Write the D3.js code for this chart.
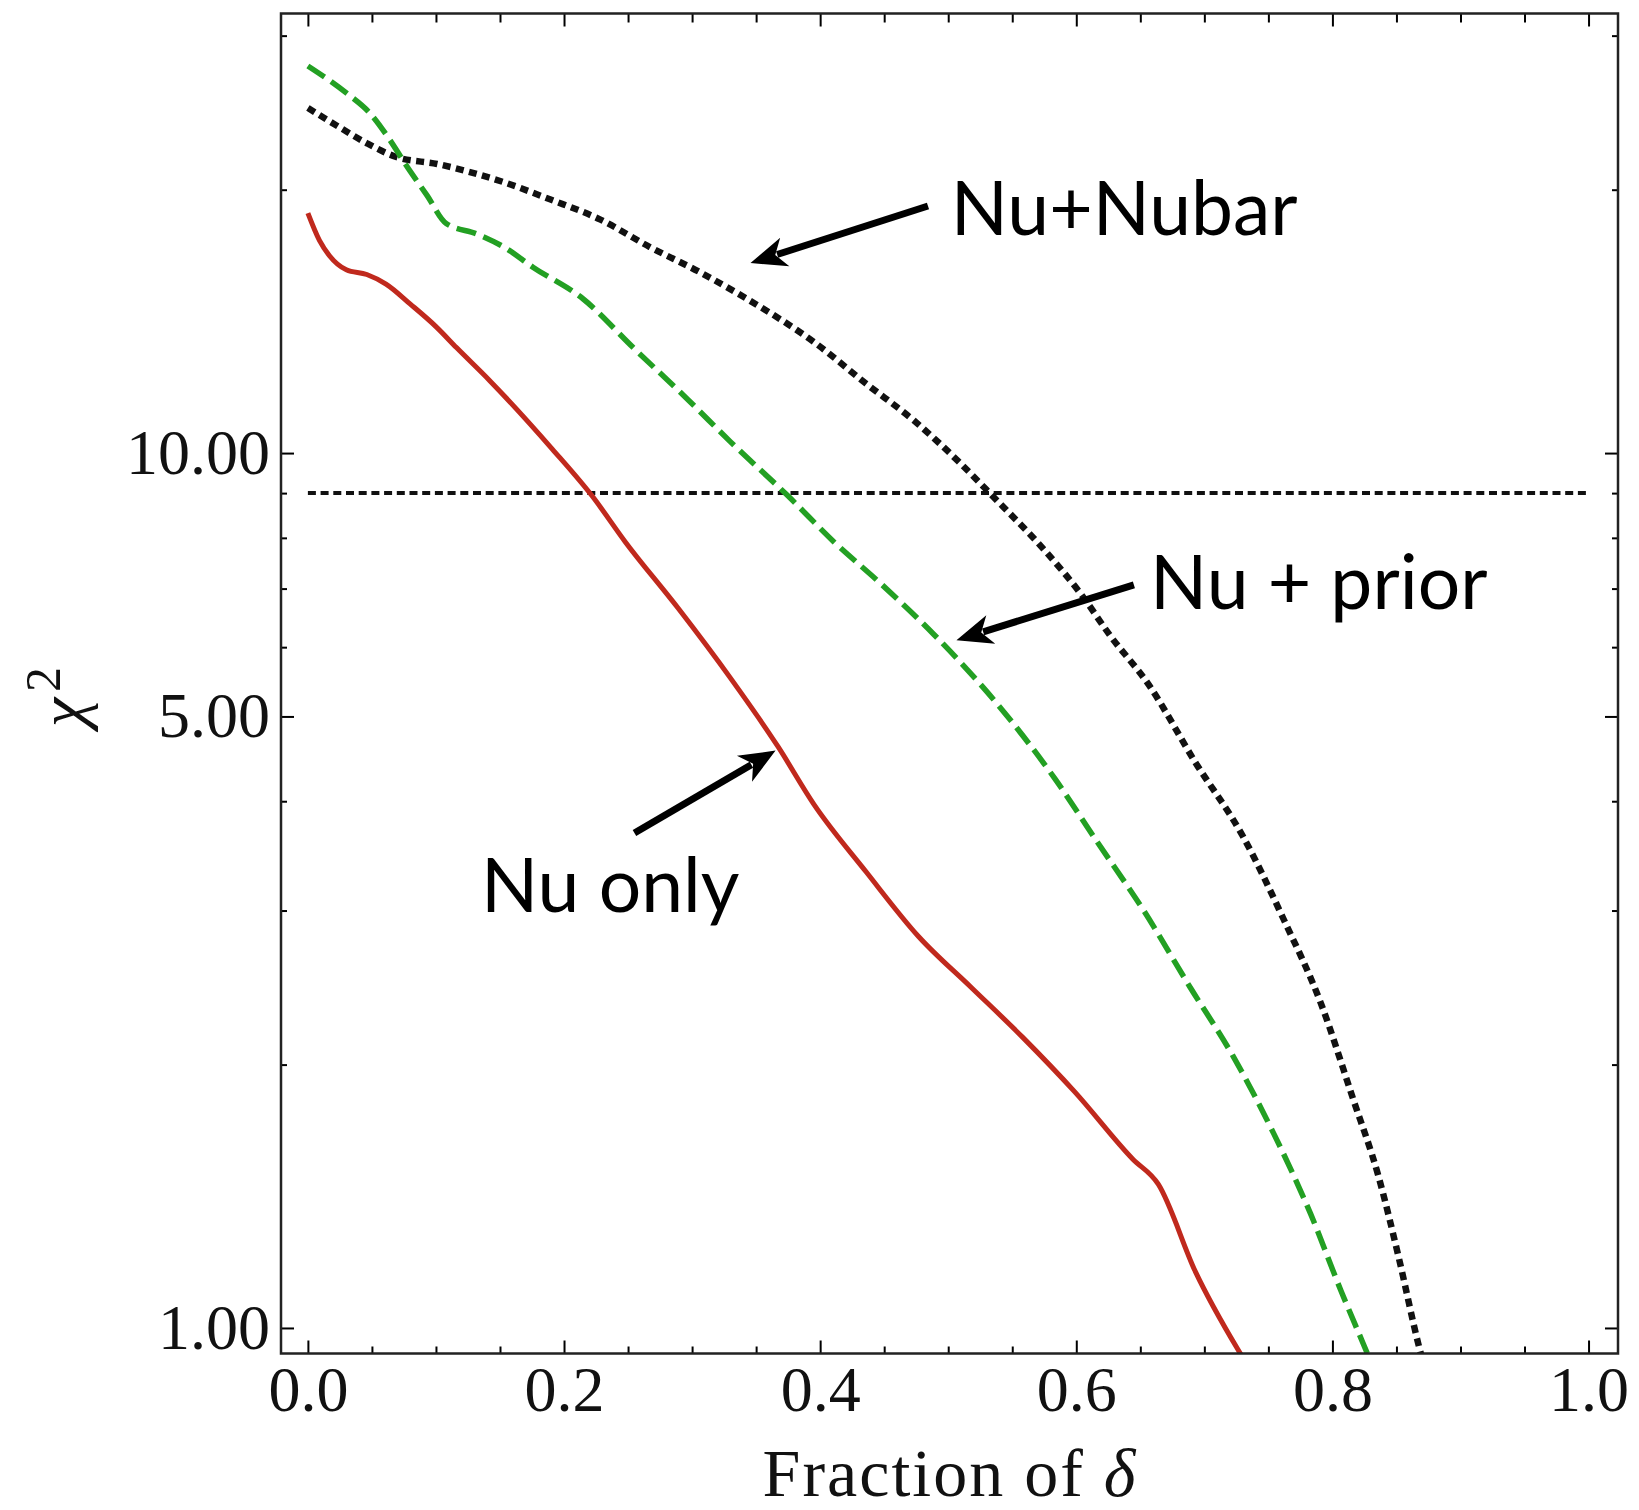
<!DOCTYPE html>
<html>
<head>
<meta charset="utf-8">
<script src="https://cdnjs.cloudflare.com/ajax/libs/d3/7.8.5/d3.min.js"></script>
<style>
    body { margin: 0; background: #ffffff; }
    svg { display: block; }
    .tick-label { font-family: "Liberation Serif", "Times New Roman", serif; }
    .note { font-family: Lato, "Open Sans", sans-serif; }
</style>
</head>
<body>
<svg id="chart" width="1639" height="1510"></svg>
<script>
"use strict";

// Nu only (red, solid)
let nuOnlyX = [0, 0.009, 0.017, 0.030, 0.046, 0.061, 0.080, 0.100, 0.116, 0.142, 0.191, 0.222,
    0.248, 0.289, 0.330, 0.367, 0.395, 0.436, 0.477, 0.518, 0.558, 0.599, 0.644, 0.664, 0.693, 0.726, 0.735];
let nuOnlyChi2 = [18.8, 17.5, 16.8, 16.2, 16.0, 15.6, 14.8, 13.95, 13.2, 12.1, 10.1, 8.93,
    7.91, 6.65, 5.53, 4.62, 3.97, 3.32, 2.80, 2.45, 2.15, 1.86, 1.56, 1.46, 1.16, 0.946, 0.90];

// Nu + prior (green, dashed)
let nuPriorX = [0, 0.030, 0.048, 0.064, 0.077, 0.093, 0.108, 0.132, 0.153, 0.176, 0.215, 0.254,
    0.297, 0.330, 0.375, 0.411, 0.447, 0.489, 0.542, 0.583, 0.616, 0.652, 0.689, 0.722, 0.754, 0.783,
    0.807, 0.824, 0.832];
let nuPriorChi2 = [27.7, 25.8, 24.5, 22.8, 21.3, 19.7, 18.3, 17.8, 17.2, 16.3, 15.0, 13.2,
    11.5, 10.3, 8.93, 7.91, 7.10, 6.20, 5.09, 4.25, 3.60, 3.01, 2.45, 2.05, 1.67, 1.35,
    1.10, 0.96, 0.90];

// Nu+Nubar (black, dotted)
let nuNubarX = [0, 0.022, 0.046, 0.069, 0.101, 0.124, 0.153, 0.189, 0.228, 0.267, 0.306, 0.343,
    0.395, 0.436, 0.473, 0.509, 0.535, 0.575, 0.603, 0.627, 0.656, 0.693, 0.730, 0.762, 0.791,
    0.816, 0.836, 0.852, 0.867, 0.872];
let nuNubarChi2 = [24.8, 23.7, 22.6, 21.8, 21.4, 21.0, 20.4, 19.5, 18.5, 17.2, 16.1, 15.0,
    13.4, 12.0, 10.9, 9.75, 8.92, 7.75, 6.92, 6.17, 5.45, 4.43, 3.65, 2.93, 2.35,
    1.83, 1.49, 1.20, 0.96, 0.90];

// horizontal reference level
let thresholdChi2 = 9;
let thresholdX = [0, 1];

// ticks
let xMajorTicks = [0, 0.2, 0.4, 0.6, 0.8, 1.0];
let xMinorTicks = [0.05, 0.1, 0.15, 0.25, 0.3, 0.35, 0.45, 0.5, 0.55, 0.65, 0.7, 0.75, 0.85, 0.9, 0.95];
let yMajorTicks = [1, 5, 10];
let yMinorTicks = [2, 3, 4, 6, 7, 8, 9, 20, 30];

// annotations, in data units
let noteLabels = ["Nu+Nubar", "Nu + prior", "Nu only"];
let noteTextPos = [[0.502, 17.76], [0.6576, 6.63], [0.1352, 2.99]];
let noteArrowTail = [[0.4842, 19.16], [0.6450, 7.07], [0.2550, 3.68]];
let noteArrowTip = [[0.3456, 16.49], [0.5064, 6.11], [0.3652, 4.57]];

let svg = d3.select("#chart");

let frame = { left: 281, right: 1618, top: 13.5, bottom: 1353.5 };

let x = d3.scaleLinear()
    .domain([-0.021, 1.023])
    .range([frame.left, frame.right]);

let y = d3.scaleLog()
    .domain([0.935, 31.8])
    .range([frame.bottom, frame.top]);

svg.append("defs").append("clipPath")
    .attr("id", "plotClip")
    .append("rect")
    .attr("x", frame.left)
    .attr("y", frame.top)
    .attr("width", frame.right - frame.left)
    .attr("height", frame.bottom - frame.top);

function zipSeries(xs, ys) {
    return xs.map((d, i) => [d, ys[i]]);
}

let line = d3.line()
    .x(d => x(d[0]))
    .y(d => y(d[1]))
    .curve(d3.curveMonotoneX);

let plot = svg.append("g").attr("clip-path", "url(#plotClip)");

// threshold line
plot.append("path")
    .datum(thresholdX.map(d => [d, thresholdChi2]))
    .attr("d", d3.line().x(d => x(d[0])).y(d => y(d[1])))
    .style("fill", "none")
    .style("stroke", "#111111")
    .style("stroke-width", 4)
    .style("stroke-dasharray", "8,4.7");

let series = [
    { data: zipSeries(nuNubarX, nuNubarChi2), color: "#111111", width: 6.5, dash: "8,5.5" },
    { data: zipSeries(nuPriorX, nuPriorChi2), color: "#23a023", width: 5.5, dash: "20,8" },
    { data: zipSeries(nuOnlyX, nuOnlyChi2), color: "#c0291d", width: 5, dash: null }
];

plot.selectAll(".series")
    .data(series)
    .enter().append("path")
    .attr("class", "series")
    .attr("d", d => line(d.data))
    .style("fill", "none")
    .style("stroke", d => d.color)
    .style("stroke-width", d => d.width)
    .style("stroke-dasharray", d => d.dash)
    .style("stroke-linejoin", "round");

// axes with inward ticks on all four sides
function drawAxis(axisFn, scale, ticks, size, labelled, translate, fmt) {
    let axis = axisFn(scale)
        .tickValues(ticks)
        .tickSizeInner(-size)
        .tickSizeOuter(0)
        .tickPadding(labelled ? 12 : 0)
        .tickFormat(labelled ? fmt : "");

    let g = svg.append("g")
        .attr("transform", translate)
        .call(axis);

    g.select(".domain").remove();
    g.selectAll(".tick line")
        .style("stroke", "#000000")
        .style("stroke-width", 2);
    g.selectAll(".tick text")
        .attr("class", "tick-label")
        .style("font-size", "64px")
        .style("fill", "#111111");
    return g;
}

let xFmt = d3.format(".1f");
let yFmt = d3.format(".2f");

drawAxis(d3.axisBottom, x, xMajorTicks, 13, true, `translate(0,${frame.bottom})`, xFmt);
drawAxis(d3.axisBottom, x, xMinorTicks, 7, false, `translate(0,${frame.bottom})`);
drawAxis(d3.axisTop, x, xMajorTicks, 13, false, `translate(0,${frame.top})`);
drawAxis(d3.axisTop, x, xMinorTicks, 9, false, `translate(0,${frame.top})`);

let leftMajor = drawAxis(d3.axisLeft, y, yMajorTicks, 13, true, `translate(${frame.left},0)`, yFmt);
leftMajor.selectAll(".tick text").attr("x", -11);
drawAxis(d3.axisLeft, y, yMinorTicks, 6, false, `translate(${frame.left},0)`);
drawAxis(d3.axisRight, y, yMajorTicks, 13, false, `translate(${frame.right},0)`);
drawAxis(d3.axisRight, y, yMinorTicks, 6, false, `translate(${frame.right},0)`);

// frame
svg.append("rect")
    .attr("x", frame.left)
    .attr("y", frame.top)
    .attr("width", frame.right - frame.left)
    .attr("height", frame.bottom - frame.top)
    .style("fill", "none")
    .style("stroke", "#222222")
    .style("stroke-width", 2.5);

// axis titles
let xTitle = svg.append("text")
    .attr("class", "tick-label")
    .attr("x", 950)
    .attr("y", 1496)
    .attr("text-anchor", "middle")
    .style("font-size", "68px")
    .style("letter-spacing", "2px")
    .style("fill", "#111111");
xTitle.append("tspan").text("Fraction of ");
xTitle.append("tspan").style("font-style", "italic").text("δ");

let yTitle = svg.append("text")
    .attr("class", "tick-label")
    .attr("transform", "translate(84,727) rotate(-90)")
    .style("fill", "#111111");
yTitle.append("tspan").style("font-style", "italic").style("font-size", "66px").text("χ");
yTitle.append("tspan").attr("dx", 6).attr("dy", -24).style("font-size", "50px").text("2");

// annotations
let arrowHead = "M0,0 L-36,-15 L-26,0 L-36,15 Z";

noteLabels.forEach(function(label, i) {
    svg.append("text")
        .attr("class", "note")
        .attr("x", x(noteTextPos[i][0]))
        .attr("y", y(noteTextPos[i][1]))
        .style("font-size", "75px")
        .style("fill", "#000000")
        .text(label);

    let x0 = x(noteArrowTail[i][0]), y0 = y(noteArrowTail[i][1]);
    let x1 = x(noteArrowTip[i][0]), y1 = y(noteArrowTip[i][1]);
    let angle = Math.atan2(y1 - y0, x1 - x0);
    let len = Math.hypot(x1 - x0, y1 - y0);

    let g = svg.append("g")
        .attr("transform", `translate(${x1},${y1}) rotate(${angle * 180 / Math.PI})`);

    g.append("line")
        .attr("x1", -len)
        .attr("y1", 0)
        .attr("x2", -28)
        .attr("y2", 0)
        .style("stroke", "#000000")
        .style("stroke-width", 7);

    g.append("path")
        .attr("d", arrowHead)
        .style("fill", "#000000");
});
</script>
</body>
</html>
